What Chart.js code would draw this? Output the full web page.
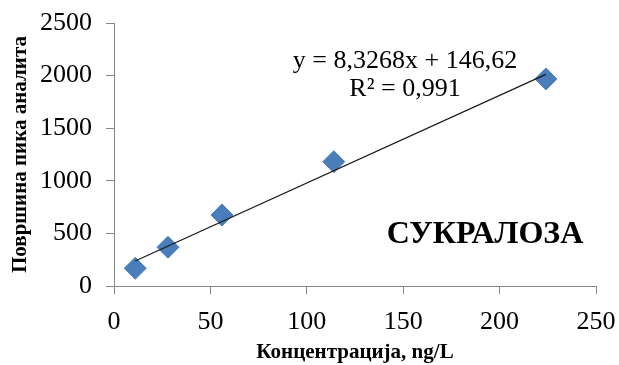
<!DOCTYPE html>
<html>
<head>
<meta charset="utf-8">
<script src="https://cdn.jsdelivr.net/npm/chart.js@4.4.1/dist/chart.umd.min.js"></script>
<style>
  html, body { margin: 0; padding: 0; background: #ffffff; }
  #wrap { width: 619px; height: 365px; position: relative; }
</style>
</head>
<body>
<div id="wrap"><canvas id="c"></canvas></div>
<script>
// Calibration points: concentration (ng/L) vs. peak area
const concentrations = [11, 28, 56, 114, 224];
const peakAreas = [168, 368, 675, 1182, 1968];

// Linear regression reported for the calibration
const slope = 8.3268;
const intercept = 146.62;
const equationText = 'y = 8,3268x + 146,62';
const r2Text = 'R\u00B2 = 0,991';
const compoundName = 'СУКРАЛОЗА';

const xTitle = 'Концентрација, ng/L';
const yTitle = 'Површина пика аналита';

const calPoints = concentrations.map((x, i) => ({ x: x, y: peakAreas[i] }));
const xFirst = concentrations[0];
const xLast = concentrations[concentrations.length - 1];
const trendPoints = [
  { x: xFirst, y: slope * xFirst + intercept },
  { x: xLast, y: slope * xLast + intercept }
];

const axisGray = '#868686';
const serif = '"Liberation Serif", "Times New Roman", serif';

const labelsPlugin = {
  id: 'calLabels',
  afterDatasetsDraw(chart) {
    const ctx = chart.ctx;
    const a = chart.chartArea;
    ctx.save();
    ctx.fillStyle = '#000';
    ctx.textAlign = 'center';
    ctx.textBaseline = 'middle';
    ctx.font = '26px ' + serif;
    ctx.fillText(equationText, a.left + 291, a.top + 38);
    ctx.fillText(r2Text, a.left + 291, a.top + 66);
    ctx.font = 'bold 32px ' + serif;
    ctx.fillText(compoundName, a.left + 371, a.top + 212);
    ctx.restore();
  }
};

new Chart(document.getElementById('c'), {
  type: 'scatter',
  data: {
    datasets: [
      {
        label: 'trend',
        data: trendPoints,
        showLine: true,
        borderColor: '#1a1a1a',
        borderWidth: 1.2,
        pointRadius: 0,
        order: 0
      },
      {
        label: 'calibration',
        data: calPoints,
        pointStyle: 'rectRot',
        pointRadius: 11,
        pointHoverRadius: 11,
        backgroundColor: '#4A7EBB',
        borderColor: '#4A7EBB',
        borderWidth: 1,
        order: 1
      }
    ]
  },
  options: {
    responsive: true,
    maintainAspectRatio: false,
    animation: false,
    events: [],
    layout: { padding: { top: 23, right: 23, left: 0, bottom: 0 } },
    plugins: { legend: { display: false }, tooltip: { enabled: false } },
    scales: {
      x: {
        type: 'linear',
        min: 0, max: 250,
        ticks: {
          stepSize: 50, color: '#000', font: { family: serif, size: 26 }, padding: 13, maxRotation: 0,
          callback: (v) => String(v)
        },
        grid: { drawOnChartArea: false, drawTicks: true, tickLength: 8, color: axisGray },
        border: { color: axisGray, width: 1 },
        title: { display: true, text: xTitle, color: '#000', font: { family: serif, size: 21, weight: 'bold' }, padding: { top: 0, bottom: 0 } },
        afterFit(scale) {
          scale.height = 79;
          scale.paddingLeft = 0;
          scale.paddingRight = 0;
        }
      },
      y: {
        type: 'linear',
        min: 0, max: 2500,
        ticks: {
          stepSize: 500, color: '#000', font: { family: serif, size: 26 }, padding: 14,
          callback: (v) => String(v)
        },
        grid: { drawOnChartArea: false, drawTicks: true, tickLength: 8, color: axisGray },
        border: { color: axisGray, width: 1 },
        title: { display: true, text: yTitle, color: '#000', font: { family: serif, size: 21, weight: 'bold' }, padding: { top: 8, bottom: 0 } },
        afterFit(scale) {
          scale.width = 114;
          scale.paddingTop = 0;
          scale.paddingBottom = 0;
        }
      }
    }
  },
  plugins: [labelsPlugin]
});
</script>
</body>
</html>
